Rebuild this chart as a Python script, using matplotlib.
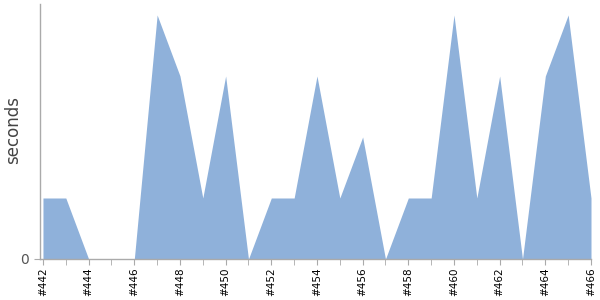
import matplotlib.pyplot as plt

builds = list(range(442, 467))
seconds = [1, 1, 0, 0, 0, 4, 3, 1, 3, 0, 1, 1, 3, 1, 2, 0, 1, 1, 4, 1, 3, 0, 3, 4, 1]
tick_labels = ["#%d" % b for b in builds[::2]]


def main():
    fig = plt.figure(figsize=(6, 3), dpi=100)
    ax = fig.add_axes([40 / 600, 41 / 300, 551 / 600, 255 / 300])

    ax.fill_between(builds, seconds, 0, color="#8fb1da", linewidth=0)
    ax.set_xlim(441.87, 466)
    ax.set_ylim(0, 4.18)

    ax.set_xticks(builds[::2])
    ax.set_xticklabels(tick_labels, rotation=90, fontsize=7.5)
    ax.set_xticks(builds[1::2], minor=True)
    ax.set_yticks([0])
    ax.set_yticklabels(["0"], fontsize=10, color="#555555")

    ax.tick_params(axis="x", which="both", length=4, color="#aaaaaa", pad=2)
    ax.tick_params(axis="y", length=4, color="#aaaaaa", pad=4)

    for s in ["top", "right"]:
        ax.spines[s].set_visible(False)
    for s in ["left", "bottom"]:
        ax.spines[s].set_color("#aaaaaa")
        ax.spines[s].set_linewidth(1)

    ax.set_ylabel("seconds", fontsize=12, color="#444444")
    ax.yaxis.set_label_coords(22 / 600, 170 / 300, transform=fig.transFigure)

    fig.savefig("out.png", dpi=100)


if __name__ == '__main__':
    main()
